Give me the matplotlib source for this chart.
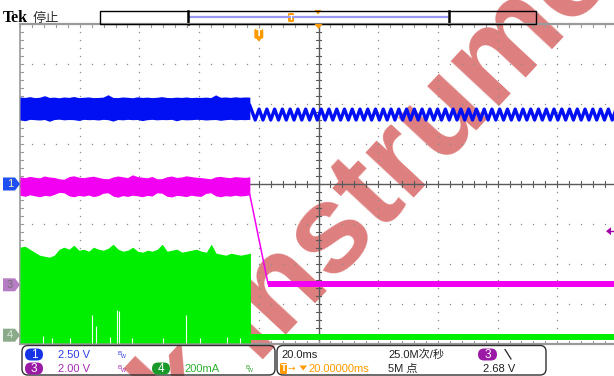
import numpy as np
import matplotlib
matplotlib.use("Agg")
import matplotlib.pyplot as plt
from matplotlib.patches import Polygon, FancyBboxPatch, Rectangle

W, H = 614, 376

# ---------------- acquisition settings ----------------
time_per_div = 20.0          # ms/div
t_left, t_right = -80.0, 120.0
ch1_scale, ch1_pos = 2.5, 0.0      # V/div, marker position (div)
ch3_scale, ch3_pos = 2.0, -2.52    # V/div
ch4_scale, ch4_pos = 0.2, -3.78    # A/div
trig_level = 2.68                  # V on CH3

t_drop = -3.0                      # ms, where the supply drops out
t_mag_end = 3.1                    # ms, CH3 reaches its low level

# ---------------- CH1 (blue) ----------------
blue_t = np.linspace(-80, t_drop, 48)
blue_hi = [5.44, 5.41, 5.46, 5.40, 5.42, 5.52, 5.41, 5.43, 5.39, 5.44, 5.41, 5.47,
           5.40, 5.42, 5.44, 5.40, 5.41, 5.43, 5.58, 5.41, 5.40, 5.44, 5.42, 5.39,
           5.45, 5.41, 5.43, 5.40, 5.42, 5.46, 5.41, 5.40, 5.43, 5.41, 5.44, 5.40,
           5.42, 5.41, 5.43, 5.40, 5.57, 5.42, 5.44, 5.41, 5.45, 5.42, 5.44, 5.43]
blue_lo = [4.02, 3.95, 4.04, 4.02, 4.00, 4.03, 3.92, 4.03, 4.05, 4.01, 4.03, 4.02,
           3.97, 4.04, 4.02, 4.03, 4.00, 4.04, 4.02, 3.93, 4.03, 4.01, 4.04, 4.02,
           4.03, 3.96, 4.02, 4.04, 4.01, 4.03, 4.02, 4.04, 3.95, 4.03, 4.01, 4.02,
           4.04, 4.03, 4.00, 4.02, 4.03, 3.98, 4.02, 4.04, 4.01, 4.03, 4.02, 4.04]
ripple_start = -1.2        # ms, first trough after drop-out
ripple_period = 2.6        # ms
ripple_hi, ripple_lo = 4.68, 4.00   # V

# ---------------- CH3 (magenta) ----------------
mag_t = np.linspace(-80, t_drop, 48)
mag_hi = [5.40, 5.36, 5.42, 5.38, 5.35, 5.44, 5.39, 5.37, 5.30, 5.28, 5.41, 5.45,
          5.38, 5.36, 5.40, 5.43, 5.37, 5.32, 5.30, 5.39, 5.44, 5.40, 5.36, 5.50,
          5.41, 5.38, 5.35, 5.42, 5.30, 5.31, 5.40, 5.44, 5.37, 5.39, 5.45, 5.41,
          5.38, 5.36, 5.33, 5.30, 5.40, 5.42, 5.38, 5.36, 5.41, 5.39, 5.37, 5.40]
mag_lo = [4.48, 4.42, 4.50, 4.45, 4.40, 4.47, 4.44, 4.52, 4.62, 4.60, 4.45, 4.40,
          4.47, 4.43, 4.49, 4.41, 4.46, 4.58, 4.60, 4.44, 4.38, 4.46, 4.42, 4.48,
          4.45, 4.40, 4.47, 4.44, 4.60, 4.58, 4.43, 4.39, 4.47, 4.45, 4.41, 4.48,
          4.44, 4.42, 4.57, 4.60, 4.45, 4.40, 4.46, 4.43, 4.48, 4.44, 4.46, 4.50]
mag_fall_v = [4.50, 0.05]
mag_low_hi, mag_low_lo = 0.19, -0.09

# ---------------- CH4 (green, current) ----------------
grn_t = np.linspace(-80, -2.8, 48)
grn_hi = [0.440, 0.445, 0.430, 0.415, 0.400, 0.395, 0.390, 0.400, 0.430, 0.440, 0.430, 0.450,
          0.425, 0.430, 0.420, 0.440, 0.430, 0.425, 0.435, 0.455, 0.430, 0.420, 0.425, 0.440,
          0.420, 0.415, 0.425, 0.420, 0.430, 0.455, 0.420, 0.425, 0.430, 0.415, 0.420, 0.425,
          0.430, 0.420, 0.415, 0.455, 0.410, 0.405, 0.400, 0.410, 0.405, 0.400, 0.405, 0.410]
grn_lo = -0.038
grn_off_hi, grn_off_lo = 0.0085, -0.025
gap_t = [-72.4, -69.4, -63.3, -55.9, -54.4, -49.8, -47.4, -46.7, -42.6, -32.0, -24.5, -19.7, -10.8, -6.3]
gap_top = [-0.005, -0.015, -0.012, 0.100, 0.045, -0.010, 0.125, 0.120, -0.015, -0.012, 0.100, -0.015, -0.010, -0.012]

BLUE = '#0010f2'
MAG = '#f200f2'
GRN = '#00ee00'
ORANGE = '#ff9a00'


def to_div(v, scale, pos):
    return np.asarray(v, dtype=float) / scale + pos


fig = plt.figure(figsize=(W / 100, H / 100), dpi=100)
fig.patch.set_facecolor('white')

# pixel-space layer below the graticule
under = fig.add_axes([0, 0, 1, 1], zorder=0)
under.set_xlim(0, W)
under.set_ylim(H, 0)
under.axis('off')

# graticule axes
ax = fig.add_axes([20 / W, (H - 344) / H, 597 / W, 320 / H], zorder=1)
ax.set_xlim(t_left, t_right)
ax.set_ylim(-4, 4)
ax.axis('off')

# pixel-space layer on top
over = fig.add_axes([0, 0, 1, 1], zorder=2)
over.set_xlim(0, W)
over.set_ylim(H, 0)
over.axis('off')


def px(t, d):
    """data (ms, div) -> pixel coordinates of the top layer"""
    x = 20 + (t - t_left) / time_per_div * 59.7
    y = 184 - d * 40
    return x, y


# ---------------- watermark ----------------
WM = dict(rotation=47, rotation_mode='anchor', va='baseline', fontsize=90,
          fontweight='bold', family='Liberation Sans', color='#de7f7f', zorder=1)
under.text(255, 359, "Instruments", ha='left', **WM)
under.text(231, 384, "Tek", ha='right', **WM)

# ---------------- graticule ----------------
gcol = '#8c8c8c'
ydots = np.arange(-4, 4.001, 0.2)
xdots = np.arange(t_left, t_right + 0.01, 4.0)
for xv in np.arange(t_left + 20, t_right, 20):
    if xv == 20:
        continue
    ax.plot(np.full_like(ydots, xv), ydots, ls='none', marker='s', ms=0.9,
            mew=0, color=gcol, zorder=2)
for yv in range(-3, 4):
    if yv == 0:
        continue
    ax.plot(xdots, np.full_like(xdots, yv), ls='none', marker='s', ms=0.9,
            mew=0, color=gcol, zorder=2)

ccol = '#5a5a5a'
ax.axvline(20, color=ccol, lw=1.0, zorder=2)
ax.axhline(0, color=ccol, lw=1.0, zorder=2)
for yv in ydots:
    ax.plot([19.0, 21.0], [yv, yv], color=ccol, lw=0.8, zorder=2)
for xv in xdots:
    ax.plot([xv, xv], [-0.075, 0.075], color=ccol, lw=0.8, zorder=2)

bcol = '#9a9a9a'
ax.plot([t_left, t_right], [4, 4], color=bcol, lw=1.6, zorder=2, clip_on=False)
ax.plot([t_left, t_right], [-4, -4], color=bcol, lw=1.6, zorder=2, clip_on=False)
ax.plot([t_left, t_left], [-4, 4], color=bcol, lw=1.2, zorder=2, clip_on=False)
for xv in xdots:
    ax.plot([xv, xv], [4, 3.93], color=bcol, lw=0.8, zorder=2)
    ax.plot([xv, xv], [-4, -3.93], color=bcol, lw=0.8, zorder=2)
for yv in ydots:
    ax.plot([t_left, t_left + 0.9], [yv, yv], color=bcol, lw=0.8, zorder=2)

# ---------------- traces ----------------
# CH4 current
ax.fill_between(grn_t, to_div(grn_lo, ch4_scale, ch4_pos),
                to_div(grn_hi, ch4_scale, ch4_pos), color=GRN, lw=0, zorder=3)
ax.vlines(gap_t, to_div(grn_lo, ch4_scale, ch4_pos), to_div(gap_top, ch4_scale, ch4_pos),
          color='#f4fff4', lw=0.8, zorder=3.1)
ax.fill_between([-2.8, t_right], to_div(grn_off_lo, ch4_scale, ch4_pos),
                to_div(grn_off_hi, ch4_scale, ch4_pos), color=GRN, lw=0, zorder=3)

# CH3
ax.fill_between(mag_t, to_div(mag_lo, ch3_scale, ch3_pos),
                to_div(mag_hi, ch3_scale, ch3_pos), color=MAG, lw=0, zorder=3.2)
ax.plot([t_drop, t_mag_end], to_div(mag_fall_v, ch3_scale, ch3_pos),
        color=MAG, lw=1.1, zorder=3.2)
ax.fill_between([t_mag_end, t_right], to_div(mag_low_lo, ch3_scale, ch3_pos),
                to_div(mag_low_hi, ch3_scale, ch3_pos), color=MAG, lw=0, zorder=3.2)

# CH1
ax.fill_between(blue_t, to_div(blue_lo, ch1_scale, ch1_pos),
                to_div(blue_hi, ch1_scale, ch1_pos), color=BLUE, lw=0, zorder=3.3)
rt = np.arange(ripple_start, t_right + ripple_period, ripple_period / 2)
rv = np.where(np.arange(rt.size) % 2 == 0, ripple_lo, ripple_hi)
rt = np.concatenate([[t_drop], rt])
rv = np.concatenate([[4.9], rv])
ax.plot(rt, to_div(rv, ch1_scale, ch1_pos), color=BLUE, lw=2.4, zorder=3.3,
        solid_joinstyle='round')

# ---------------- markers on the graticule ----------------
# trigger position "T"
tx, ty = px(0.0, 3.73)
over.add_patch(FancyBboxPatch((tx - 4.5, ty - 6), 9, 10,
                              boxstyle='round,pad=0,rounding_size=2',
                              fc=ORANGE, ec='none'))
over.add_patch(Polygon([[tx - 3, ty + 3.5], [tx + 3, ty + 3.5], [tx, ty + 6.5]],
                       closed=True, fc=ORANGE, ec='none'))
over.text(tx, ty - 0.8, 'T', color='white', fontsize=6.5, fontweight='bold',
          ha='center', va='center', family='DejaVu Sans')
# horizontal position marker
hx, hy = px(20.0, 4.0)
over.add_patch(Polygon([[hx - 4, hy], [hx + 4, hy], [hx, hy + 5]], closed=True,
                       fc=ORANGE, ec='none'))
# trigger level marker on the right edge
lx, ly = px(117.0, to_div(trig_level, ch3_scale, ch3_pos))
over.add_patch(Polygon([[lx - 2, ly], [lx + 3, ly - 4], [lx + 3, ly + 4]], closed=True,
                       fc='#a000a8', ec='none'))
over.plot([lx + 3, lx + 7], [ly, ly], color='#a000a8', lw=1.0)


# channel ground markers on the left
def flag(pos, fc, tc, label):
    _, y = px(0, pos)
    over.add_patch(Polygon([[3, y - 6.5], [15, y - 6.5], [20, y], [15, y + 6.5], [3, y + 6.5]],
                           closed=True, fc=fc, ec='none'))
    over.text(10, y + 0.3, label, color=tc, fontsize=8, ha='center', va='center',
              family='Liberation Sans')


flag(ch1_pos, '#1f4ff0', '#f0f0c0', '1')
flag(ch3_pos, '#b67cc4', '#707070', '3')
flag(ch4_pos, '#8aaa8a', '#d8e8d8', '4')

# ---------------- top status line ----------------
under.text(3, 22, 'Tek', fontsize=11.5, fontweight='bold', family='Liberation Serif',
           color='black', ha='left', va='baseline')
under.text(33, 22, '停止', fontsize=9.5, family=['Noto Sans CJK SC', 'DejaVu Sans'],
           color='#333333', ha='left', va='baseline')
over.add_patch(Rectangle((100, 11), 436, 12.5, fc='none', ec='black', lw=1.0, zorder=0))
under.plot([189, 447], [16.5, 16.5], color='#9a9af2', lw=1.6)
under.plot([187.8, 187.8], [11, 23.5], color='black', lw=1.8)
under.plot([448.8, 448.8], [11, 23.5], color='black', lw=1.8)
under.add_patch(FancyBboxPatch((288, 13), 6, 9, boxstyle='round,pad=0,rounding_size=1.5',
                               fc=ORANGE, ec='none'))
under.text(291, 17.5, 'T', color='white', fontsize=5, fontweight='bold',
           ha='center', va='center')
under.add_patch(Polygon([[314.5, 10], [321.5, 10], [318, 14.5]], closed=True,
                        fc=ORANGE, ec='none'))

# ---------------- bottom readout ----------------
for x0, w0 in [(22, 253), (277, 269)]:
    over.add_patch(FancyBboxPatch((x0, 345.5), w0, 29.5, boxstyle='round,pad=0,rounding_size=6',
                                  fc='none', ec='#303030', lw=1.0))

F = 'Liberation Sans'
CJK = ['Liberation Sans', 'Noto Sans CJK SC']
r1, r2 = 354.5, 368.5


def badge(x, y, fc, label, w=18):
    over.add_patch(FancyBboxPatch((x, y - 6), w, 12, boxstyle='round,pad=0,rounding_size=6',
                                  fc=fc, ec='none'))
    over.text(x + w / 2, y + 0.3, label, color='white', fontsize=8.5, ha='center',
              va='center', family=F)


def bw(x, y, c):
    over.text(x, y - 1, 'B', color=c, fontsize=4.5, ha='left', va='center', family=F)
    over.text(x + 2.8, y + 2, 'W', color=c, fontsize=3.8, ha='left', va='center', family=F)


badge(25, r1, '#1434e6', '1')
over.text(58, r1, '2.50 V', color='#2e3ee6', fontsize=8, ha='left', va='center', family=F)
bw(118, r1, '#3040e0')
badge(25, r2, '#9a1aa6', '3')
over.text(58, r2, '2.00 V', color='#a62cb4', fontsize=8, ha='left', va='center', family=F)
bw(118, r2, '#a62cb4')
badge(152, r2, '#1a9a2a', '4')
over.text(184, r2, '200mA', color='#30b030', fontsize=8, ha='left', va='center', family=F)
bw(245, r2, '#30a030')

over.text(281, r1, '20.0ms', color='#222222', fontsize=8, ha='left', va='center', family=F)
over.text(388, r1, '25.0M次/秒', color='#222222', fontsize=8, ha='left', va='center', family=CJK)
badge(478, r1, '#9a1aa6', '3', w=19)
over.plot([505, 506, 511], [349.5, 351, 359], color='#222222', lw=0.9)
over.add_patch(FancyBboxPatch((280, r2 - 5.5), 7, 11, boxstyle='round,pad=0,rounding_size=1.5',
                              fc=ORANGE, ec='none'))
over.text(283.5, r2, 'T', color='white', fontsize=6, fontweight='bold', ha='center', va='center')
over.text(288, r2, '→', color=ORANGE, fontsize=6.5, ha='left', va='center', family='DejaVu Sans')
over.add_patch(Polygon([[299.5, r2 - 3], [307, r2 - 3], [303.2, r2 + 2]], closed=True,
                       fc=ORANGE, ec='none'))
over.text(308, r2, '20.00000ms', color=ORANGE, fontsize=8, ha='left', va='center', family=F)
over.text(388, r2, '5M 点', color='#222222', fontsize=8, ha='left', va='center', family=CJK)
over.text(483, r2, '2.68 V', color='#222222', fontsize=8, ha='left', va='center', family=F)

fig.savefig('out.png', dpi=100, facecolor='white')
